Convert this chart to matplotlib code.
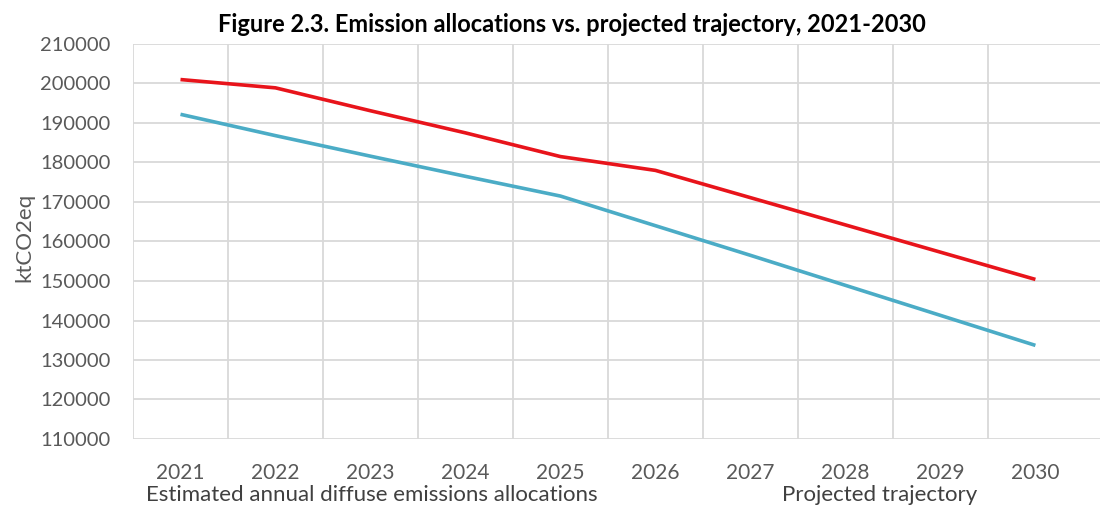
import matplotlib
matplotlib.use("Agg")
import matplotlib.pyplot as plt
import numpy as np

years = ["2021", "2022", "2023", "2024", "2025", "2026", "2027", "2028", "2029", "2030"]
allocations = [192200, 186800, 181600, 176500, 171500, 164000, 156500, 148900, 141300, 133700]
projected = [201000, 198900, 193100, 187500, 181500, 178000, 171100, 164200, 157300, 150400]
series_labels = ["Estimated annual diffuse emissions allocations", "Projected trajectory"]
y_ticks = [110000, 120000, 130000, 140000, 150000, 160000, 170000, 180000, 190000, 200000, 210000]
title = "Figure 2.3. Emission allocations vs. projected trajectory, 2021-2030"
y_label = "ktCO2eq"

plt.rcParams['font.family'] = ['Lato', 'DejaVu Sans']

fig = plt.figure(figsize=(11, 5.09), dpi=100)
ax = fig.add_axes([133 / 1100, (509 - 439) / 509, (1100 - 133) / 1100, (439 - 44) / 509])

x = np.arange(len(years))
grid_col = "#D9D9D9"
ax.plot(x, allocations, color="#4BACC6", lw=2.6, solid_capstyle="butt", zorder=3)
ax.plot(x, projected, color="#E8141B", lw=2.6, solid_capstyle="butt", zorder=4)

ax.set_xlim(-0.5, 9.68)
ax.set_ylim(110000, 210000)
ax.set_yticks(y_ticks)
ax.set_yticklabels([str(v) for v in y_ticks])
ax.set_xticks(x)
ax.set_xticklabels(years)
ax.set_xticks(np.arange(-0.5, 9, 1.0), minor=True)

ax.grid(axis="y", which="major", color=grid_col, lw=1.3)
ax.grid(axis="x", which="minor", color=grid_col, lw=1.3)
ax.grid(axis="x", which="major", visible=False)
ax.set_axisbelow(True)
for s in ax.spines.values():
    s.set_visible(False)
ax.tick_params(axis="both", which="both", length=0)
ax.tick_params(axis="y", labelsize=14.5, labelcolor="#595959", pad=16)
ax.tick_params(axis="x", labelsize=15, labelcolor="#595959", pad=17)

fig.text(24 / 1100, 1 - 237 / 509, y_label, rotation=90, ha="center", va="center",
         fontsize=16, color="#595959")
fig.text(572 / 1100, 1 - 25 / 509, title, ha="center", va="center",
         fontsize=17, fontweight="bold", color="#000000")
fig.text(372 / 1100, 1 - 495 / 509, series_labels[0], ha="center", va="center",
         fontsize=16, color="#404040")
fig.text(880 / 1100, 1 - 495 / 509, series_labels[1], ha="center", va="center",
         fontsize=16, color="#404040")

fig.savefig("out.png", dpi=100)
